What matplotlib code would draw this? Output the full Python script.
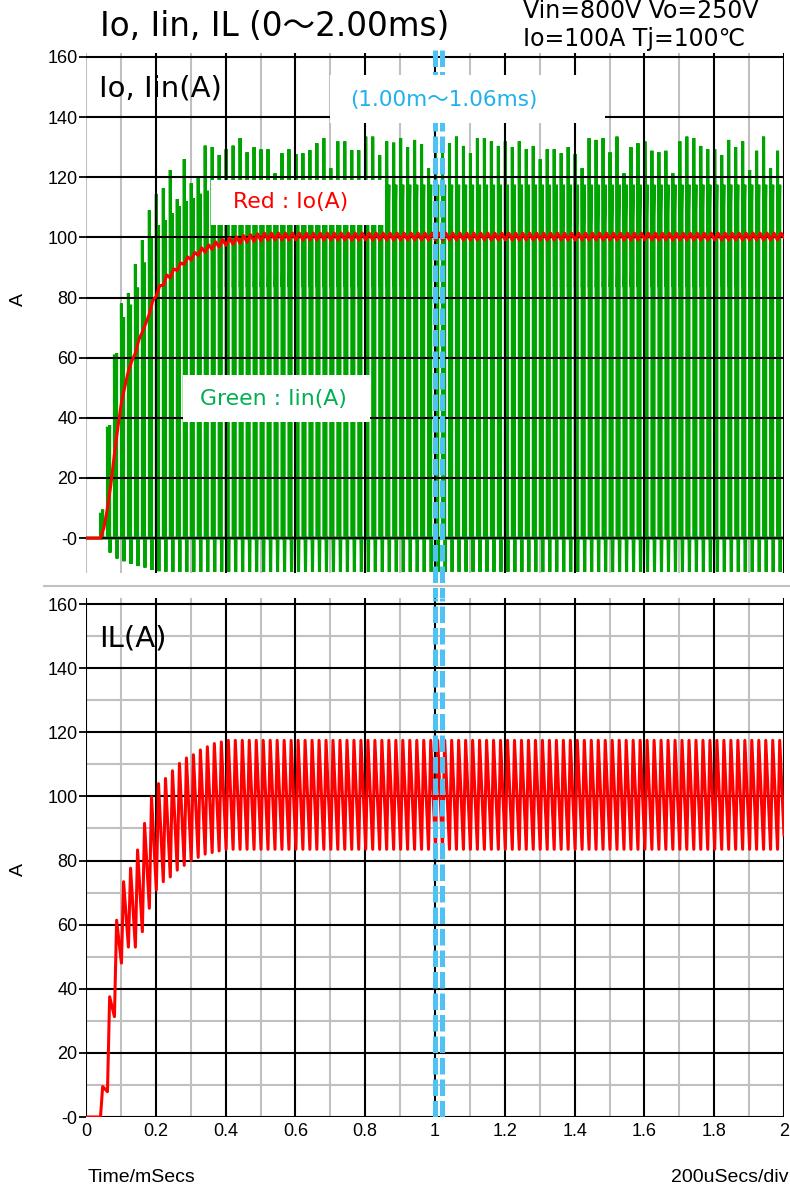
import numpy as np
import matplotlib
matplotlib.use('Agg')
import matplotlib.pyplot as plt
from matplotlib.patches import Rectangle
from matplotlib.lines import Line2D

plt.rcParams['font.family'] = ['DejaVu Sans', 'Noto Sans CJK JP']

# switching grid, 50 kHz, first pulse at ~0.0415 ms
t_first = 0.0415
period = 0.02
t_on = 0.00625
t_end = 2.0

# Iin (green): top of the turn-on spike of each cycle (A)
iin_top = [8.4, 37, 61, 78, 81.5, 91, 99, 109, 114.3, 116.3,
           122.4, 112.7, 126, 118, 119.9, 130.5, 130, 127.4, 129.3, 130.5,
           133, 128.3, 130, 129.3, 129.3, 121.3, 128, 129.3, 127.7, 128,
           129, 131.3, 133, 123, 131.9, 131.9, 129, 129, 133.5, 133.5,
           127.4, 131.9, 131.5, 133, 130, 132.4, 131, 123, 130.4, 131.5,
           131.3, 133.5, 130.4, 128, 133, 133, 131.9, 130.4, 131.9, 130,
           131.9, 129.3, 130.4, 126, 129.3, 129.3, 128, 130, 127.7, 123,
           133, 132.4, 133, 128.3, 133.5, 121.3, 130, 131.3, 131.9, 128.8,
           128.3, 128.8, 121.3, 131.9, 133.5, 133, 130.4, 129.3, 129.3, 127.4,
           132.4, 130, 131.9, 122.4, 128.8, 133.5, 123, 128.8]
# Iin negative spike of each cycle (A)
iin_neg = [0, -4.8, -6.8, -7.7, -8.6, -9.3, -9.8, -10.6, -11.0] + [-11.2] * 89

# IL (red, lower panel): valley / peak of each cycle (A)
il_valley = [0, 7.9, 31.3, 48, 53, 53, 57.8, 65.1, 70.8, 73.4,
             74.9, 77, 78.5, 80, 81, 82, 82.5, 83] + [83.5] * 80
il_peak = [9.5, 37.5, 61.4, 73.4, 77.6, 83.3, 91.6, 99.9, 104, 105.6,
           108, 110.3, 112, 113, 114.5, 115.5, 116.5, 117] + [117.5] * 80
il_end = 88

# Io (red, upper panel): low / high of the ripple in each cycle (A)
io_low = [0, 10, 28, 45, 55.5, 61.5, 68.5, 74.5, 80.5, 84,
          86.5, 89, 91, 92.5, 94, 95, 96, 96.8, 97.3, 97.7,
          98, 98.4, 98.6, 98.8] + [99.1] * 74
io_high = [3.5, 18, 37, 50.5, 59, 66, 71.5, 79, 84, 87.5,
           89.5, 91.5, 93.5, 95, 96.5, 97.5, 98.5, 99.3, 99.8, 100.2,
           100.6, 100.9, 101.2, 101.4] + [101.4] * 74
io_end = 100

cursor_t = [1.0, 1.02]
y_ticks = [0, 20, 40, 60, 80, 100, 120, 140, 160]
y_labels = ['-0', '20', '40', '60', '80', '100', '120', '140', '160']
x_major = [0, 0.2, 0.4, 0.6, 0.8, 1.0, 1.2, 1.4, 1.6, 1.8, 2.0]
x_minor = [0.1, 0.3, 0.5, 0.7, 0.9, 1.1, 1.3, 1.5, 1.7, 1.9]
x_labels = ['0', '0.2', '0.4', '0.6', '0.8', '1', '1.2', '1.4', '1.6', '1.8', '2']
y_minor = [10, 30, 50, 70, 90, 110, 130, 150]

GREEN = '#00A400'
RED = '#FF0000'
CYAN = '#4EC2F4'
GRAY = '#C0C0C0'

n = len(iin_top)
tk = t_first + period * np.arange(n)

# build the piecewise waveforms from the per-cycle values
g_t, g_y = [0.0], [0.0]
l_t, l_y = [0.0], [0.0]
o_t, o_y = [0.0], [0.0]
for k in range(n):
    t0 = tk[k]
    g_t += [t0, t0, t0 + 0.0008, t0 + t_on, t0 + t_on, t0 + t_on + 0.0012, t0 + t_on + 0.0024]
    g_y += [0, iin_top[k], il_valley[k], il_peak[k], 0, iin_neg[k], 0]
    l_t += [t0, t0 + t_on]
    l_y += [il_valley[k], il_peak[k]]
    o_t += [t0, t0 + period / 2]
    o_y += [io_low[k], io_high[k]]
g_t.append(t_end); g_y.append(0)
l_t.append(t_end); l_y.append(il_end)
o_t.append(t_end); o_y.append(io_end)

W, H = 790, 1186
def fx(x):
    return x / W
def fy(y):
    return 1 - y / H

fig = plt.figure(figsize=(W / 100, H / 100), dpi=100)
ax1 = fig.add_axes([fx(86), fy(573), 698 / W, 520 / H])
ax2 = fig.add_axes([fx(86), fy(1117), 698 / W, 519 / H])

for ax in (ax1, ax2):
    ax.set_xlim(0, 2)
    for s in ax.spines.values():
        s.set_visible(False)
    ax.set_yticks(y_ticks)
    ax.set_yticklabels(y_labels)
    ax.tick_params(axis='y', length=5, width=1.3, pad=1, labelsize=13)
    for lab in ax.get_yticklabels():
        lab.set_fontfamily('Liberation Sans')

ax1.set_ylim(-11.6, 161.3)
ax2.set_ylim(0, 161.9)

# top panel grid
for x in x_minor + [0]:
    ax1.axvline(x, color=GRAY, lw=1.5, zorder=1)
for x in x_major[1:]:
    ax1.axvline(x, color='black', lw=1.5, zorder=2.5)
for y in y_ticks:
    ax1.axhline(y, color='black', lw=1.5, zorder=2.5)
ax1.set_xticks([])

# bottom panel grid
for x in x_minor:
    ax2.axvline(x, color=GRAY, lw=1.5, zorder=1)
for y in y_minor:
    ax2.axhline(y, color=GRAY, lw=1.5, zorder=1)
for x in x_major:
    ax2.axvline(x, color='black', lw=1.5, zorder=2)
for y in y_ticks:
    ax2.axhline(y, color='black', lw=1.5, zorder=2)
ax2.set_xticks(x_major)
ax2.set_xticklabels(x_labels)
ax2.tick_params(axis='x', length=0, pad=4, labelsize=13)
for lab in ax2.get_xticklabels():
    lab.set_fontfamily('Liberation Sans')

# waveforms
ax1.plot(g_t, g_y, color=GREEN, lw=2.2, zorder=2, solid_joinstyle='miter')
ax1.plot(o_t, o_y, color=RED, lw=2.2, zorder=3)
ax2.plot(l_t, l_y, color=RED, lw=2.2, zorder=3)

# cursors
for t in cursor_t:
    ax1.axvline(t, ymin=-31 / 520, ymax=526 / 520, color=CYAN, lw=3.6,
                dashes=(3.3, 1.0), zorder=4, clip_on=False)
    ax2.axvline(t, 0, 1, color=CYAN, lw=3.6, dashes=(3.3, 1.0), zorder=4)

# label boxes
ax1.add_patch(Rectangle((0.699, 138.0), 0.788, 15.9, facecolor='white', edgecolor='none', zorder=5))
ax1.text(1.026, 145.8, '(1.00m～1.06ms)', color='#1FB0EE', fontsize=15.5,
         ha='center', va='center', zorder=6)
ax1.add_patch(Rectangle((0.358, 104.1), 0.499, 14.9, facecolor='white', edgecolor='none', zorder=5))
ax1.text(0.585, 111.7, 'Red : Io(A)', color=RED, fontsize=15.8,
         ha='center', va='center', zorder=6)
ax1.add_patch(Rectangle((0.278, 38.6), 0.536, 15.6, facecolor='white', edgecolor='none', zorder=5))
ax1.text(0.536, 46.2, 'Green : Iin(A)', color='#00B050', fontsize=15.8,
         ha='center', va='center', zorder=6)

# texts
fig.text(fx(100), fy(36), 'Io, Iin, IL (0～2.00ms)', fontsize=23.5, va='baseline')
fig.text(fx(523), fy(18), 'Vin=800V Vo=250V', fontsize=17, va='baseline')
fig.text(fx(523), fy(46), 'Io=100A Tj=100℃', fontsize=17, va='baseline')
fig.text(fx(99), fy(97), 'Io, Iin(A)', fontsize=21, va='baseline')
fig.text(fx(99), fy(647), 'IL(A)', fontsize=21, va='baseline')
fig.text(fx(18), fy(300), 'A', rotation=90, fontsize=14, family='Liberation Sans',
         ha='center', va='center')
fig.text(fx(18), fy(870), 'A', rotation=90, fontsize=14, family='Liberation Sans',
         ha='center', va='center')
fig.text(fx(88), fy(1177), 'Time/mSecs', fontsize=14, family='Liberation Sans', va='center')
fig.text(fx(788), fy(1177), '200uSecs/div', fontsize=14, family='Liberation Sans',
         va='center', ha='right')

# separator between the panels
fig.add_artist(Line2D([fx(44), 1], [fy(586), fy(586)], color=GRAY, lw=1.5))

fig.savefig('out.png', dpi=100)
